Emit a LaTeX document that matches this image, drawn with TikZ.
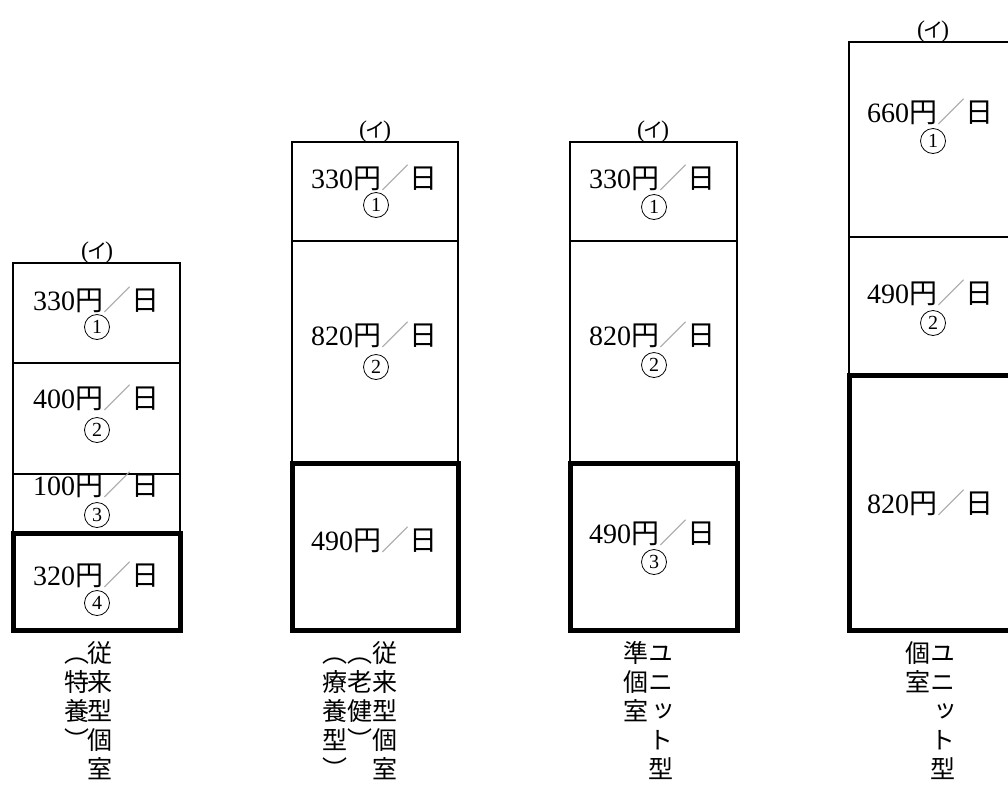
\documentclass[tikz,border=0pt]{standalone}
\usepackage{fontspec}
\setmainfont{Liberation Serif}
\newfontfamily\jp{Noto Sans CJK JP}
\newfontfamily\jpv[RawFeature=+vert]{Noto Sans CJK JP}
\newcommand\pricetxt[1]{#1{\jp 円\textcolor{slashgray}{／}日}}
\newcommand\itag{(\kern-2pt{\jp\fontsize{20}{20}\selectfont イ}\kern-2pt)}
\newcommand\topstrut{\rule{0pt}{22pt}}
\definecolor{slashgray}{RGB}{165,165,165}
\begin{document}
\begin{tikzpicture}[x=1pt,y=-1pt,
  thinln/.style={line width=1.2pt},
  thickln/.style={line width=5pt},
  price/.style={font=\fontsize{28}{30}\selectfont, inner sep=0pt, anchor=base},
  num/.style={circle, draw, line width=0.8pt, minimum size=25pt, inner sep=0pt, font=\fontsize{20}{20}\selectfont},
  itaglab/.style={font=\fontsize{24}{24}\selectfont, inner sep=0pt, anchor=base},
  vlab/.style={font=\jpv\fontsize{25}{29}\selectfont, align=center, inner sep=0pt, anchor=north}]
\useasboundingbox (0,0) rectangle (1008,785);
\clip (0,0) rectangle (1008,785);
\fill[white] (0,0) rectangle (1008,785);

% column 1
\draw[thinln] (13,263) rectangle (180,533);
\draw[thinln] (13,363) -- (180,363);
\draw[thinln] (13,474) -- (180,474);
\draw[thickln] (13,533) rectangle (180,630);
% column 2
\draw[thinln] (292,142) rectangle (458,463);
\draw[thinln] (292,241) -- (458,241);
\draw[thickln] (292,463) rectangle (458,630);
% column 3
\draw[thinln] (570,142) rectangle (737,463);
\draw[thinln] (570,241) -- (737,241);
\draw[thickln] (570,463) rectangle (737,630);
% column 4
\draw[thinln] (849,42) rectangle (1016,375);
\draw[thinln] (849,237) -- (1016,237);
\draw[thickln] (849,375) rectangle (1016,630);

% (イ) tags
\node[itaglab] (t1) at (97,258) {\itag};
\node[itaglab] (t2) at (375,137) {\itag};
\node[itaglab] (t3) at (653,137) {\itag};
\node[itaglab] (t4) at (933,37) {\itag};

% column 1 texts
\node[price] (p1a) at (96,310) {\pricetxt{330}};
\node[num] (n1a) at (97,327) {1};
\node[price] (p1b) at (96,408) {\pricetxt{400}};
\node[num] (n1b) at (97,430) {2};
\node[price] (p1c) at (96,495) {\pricetxt{100}};
\node[num] (n1c) at (97,515) {3};
\node[price] (p1d) at (96,585) {\pricetxt{320}};
\node[num] (n1d) at (97,603) {4};

% column 2 texts
\node[price] (p2a) at (374,188) {\pricetxt{330}};
\node[num] (n2a) at (376,205) {1};
\node[price] (p2b) at (374,345) {\pricetxt{820}};
\node[num] (n2b) at (376,367) {2};
\node[price] (p2c) at (374,550) {\pricetxt{490}};

% column 3 texts
\node[price] (p3a) at (652,188) {\pricetxt{330}};
\node[num] (n3a) at (654,207) {1};
\node[price] (p3b) at (652,345) {\pricetxt{820}};
\node[num] (n3b) at (654,365) {2};
\node[price] (p3c) at (652,543) {\pricetxt{490}};
\node[num] (n3c) at (654,562) {3};

% column 4 texts
\node[price] (p4a) at (930,122) {\pricetxt{660}};
\node[num] (n4a) at (933,141) {1};
\node[price] (p4b) at (930,303) {\pricetxt{490}};
\node[num] (n4b) at (933,323) {2};
\node[price] (p4c) at (930,513) {\pricetxt{820}};

% vertical labels
\node[vlab] (l1r) at (100,640) {\topstrut 従\\来\\型\\個\\室};
\node[vlab] (l1l) at (77,640) {\topstrut ︵\\特\\養\\︶};
\node[vlab] (l2r) at (385,640) {\topstrut 従\\来\\型\\個\\室};
\node[vlab] (l2m) at (360,640) {\topstrut ︵\\老\\健\\︶};
\node[vlab] (l2l) at (335,640) {\topstrut ︵\\療\\養\\型\\︶};
\node[vlab] (l3r) at (661,640) {\topstrut ユ\\ニ\\ッ\\ト\\型};
\node[vlab] (l3l) at (636,640) {\topstrut 準\\個\\室};
\node[vlab] (l4r) at (943,640) {\topstrut ユ\\ニ\\ッ\\ト\\型};
\node[vlab] (l4l) at (918,640) {\topstrut 個\\室};
\end{tikzpicture}
\end{document}
